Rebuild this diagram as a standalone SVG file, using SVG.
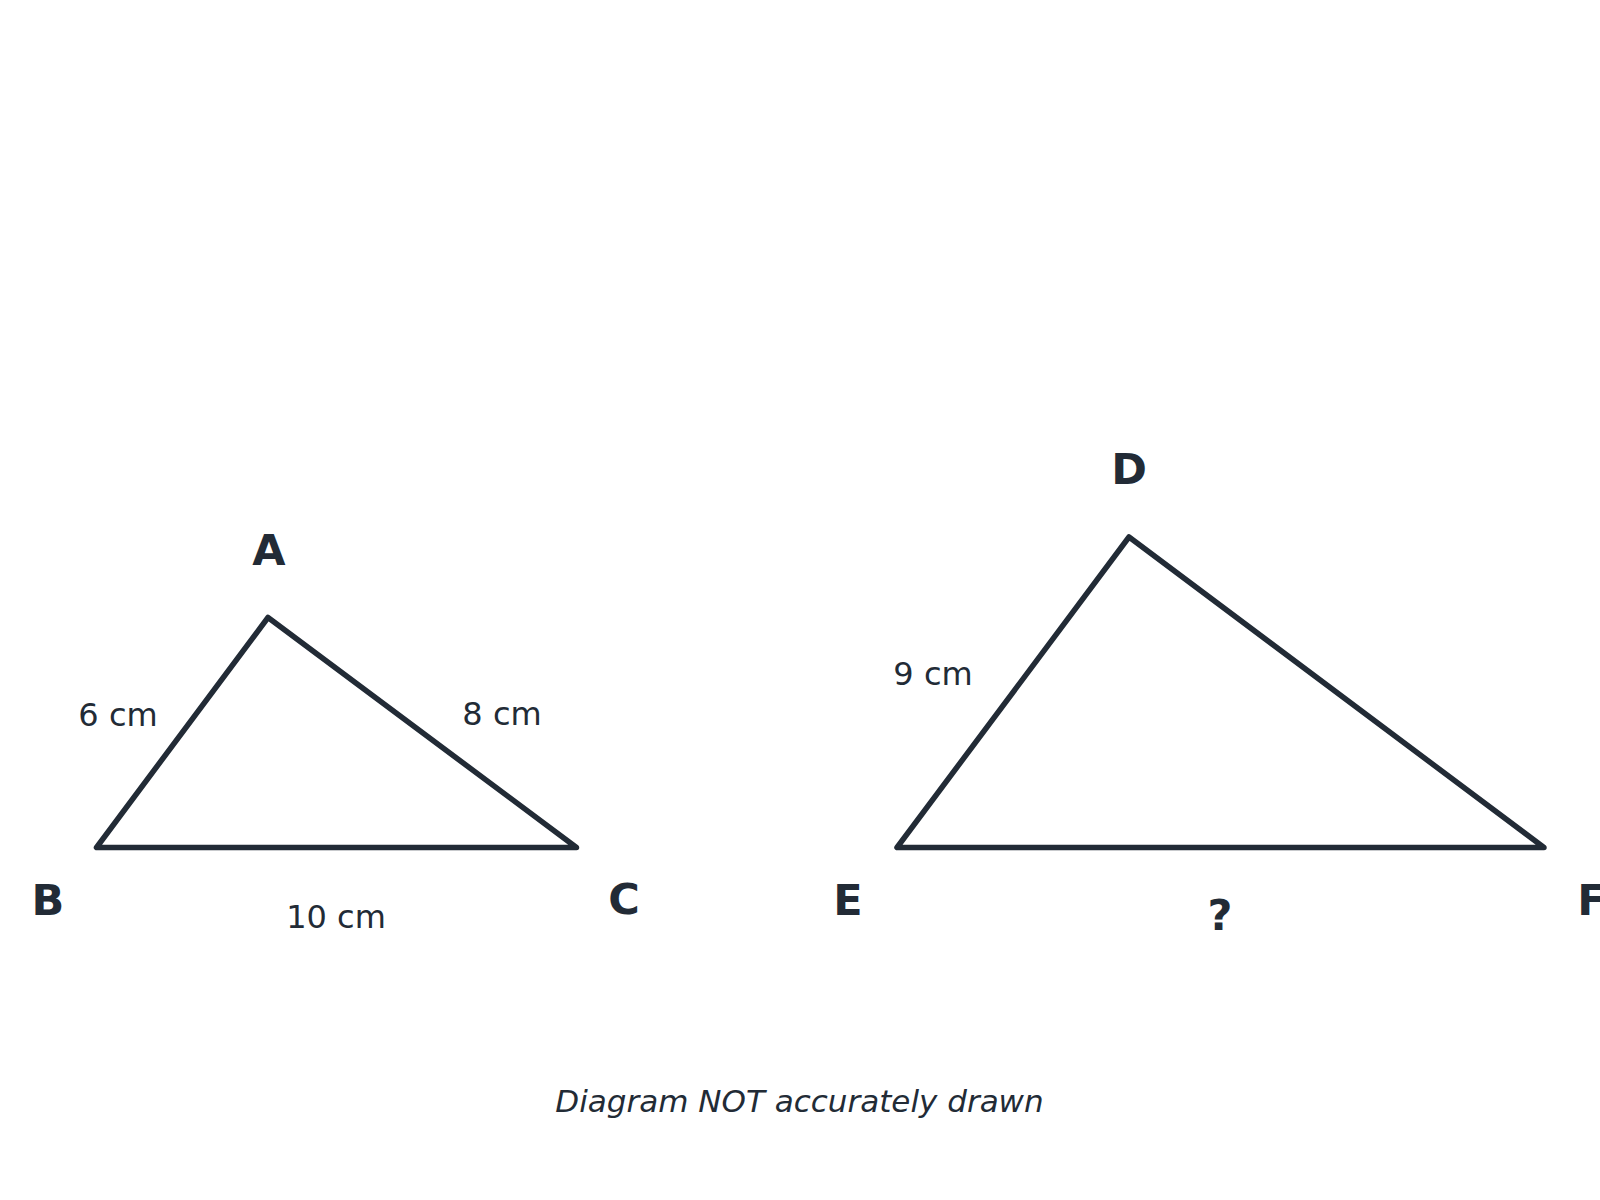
<svg xmlns="http://www.w3.org/2000/svg" width="1600" height="1200" viewBox="0 0 1600 1200">
  <style>
    .tri { fill: none; stroke: #222b36; stroke-width: 5.5; stroke-linejoin: round; stroke-linecap: round; }
    .vtx { font-family: "DejaVu Sans", "Liberation Sans", sans-serif; font-weight: bold; font-size: 43px; fill: #222b36; text-anchor: middle; }
    .len { font-family: "DejaVu Sans", "Liberation Sans", sans-serif; font-size: 32px; fill: #222b36; text-anchor: middle; }
    .cap { font-family: "DejaVu Sans", "Liberation Sans", sans-serif; font-style: italic; font-size: 31px; fill: #222b36; text-anchor: middle; }
  </style>
  <rect width="1600" height="1200" fill="#ffffff"/>
  <g id="connectors">
    <polygon id="triangle-ABC" class="tri" points="268,617.5 96.5,847.5 576.5,847.5"/>
    <polygon id="triangle-DEF" class="tri" points="1129,537 897,847.5 1544,847.5"/>
  </g>
  <g id="node-A"><text class="vtx" x="269" y="565">A</text></g>
  <g id="node-B"><text class="vtx" x="48" y="915">B</text></g>
  <g id="node-C"><text class="vtx" x="624" y="914">C</text></g>
  <g id="node-D"><text class="vtx" x="1129" y="484">D</text></g>
  <g id="node-E"><text class="vtx" x="848" y="915">E</text></g>
  <g id="node-F"><text class="vtx" x="1592" y="915">F</text></g>
  <g id="labels">
    <text class="len" x="118" y="726">6 cm</text>
    <text class="len" x="502" y="725">8 cm</text>
    <text class="len" x="336" y="928">10 cm</text>
    <text class="len" x="933" y="685">9 cm</text>
    <text class="vtx" x="1220" y="930">?</text>
  </g>
  <g id="caption"><text class="cap" x="799.5" y="1112">Diagram NOT accurately drawn</text></g>
</svg>
